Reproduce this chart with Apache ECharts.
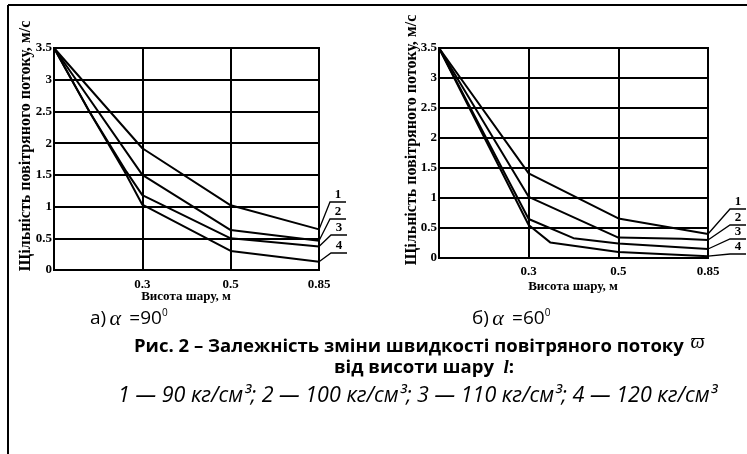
<!DOCTYPE html>
<html><head><meta charset="utf-8">
<script src="https://cdn.jsdelivr.net/npm/echarts@6/dist/echarts.min.js"></script>
<style>html,body{margin:0;padding:0;background:#fff}#c{width:747px;height:454px}</style>
</head><body><div id="c"></div>
<script>
// x positions are category slots (equally spaced): index 0 -> '', 1 -> 0.3, 2 -> 0.5, 3 -> 0.85
const xTickLabels = ['', '0.3', '0.5', '0.85'];
const yTickLabels = ['0', '0.5', '1', '1.5', '2', '2.5', '3', '3.5'];
const seriesNames = ['1', '2', '3', '4'];

// a) alpha = 90
const a1 = [[0,3.5],[1,1.92],[2,1.02],[3,0.64]];
const a2 = [[0,3.5],[1,1.5],[2,0.63],[3,0.46]];
const a3 = [[0,3.5],[0.4,2.5],[0.82,1.55],[1,1.18],[2,0.5],[3,0.37]];
const a4 = [[0,3.5],[0.4,2.5],[0.8,1.55],[1,1.03],[2,0.3],[3,0.13]];
// б) alpha = 60
const b1 = [[0,3.5],[1,1.41],[2,0.66],[3,0.4]];
const b2 = [[0,3.5],[1,1.02],[2,0.34],[2.7,0.32],[3,0.3]];
const b3 = [[0,3.5],[1,0.65],[1.5,0.33],[2,0.24],[3,0.15]];
const b4 = [[0,3.5],[1,0.55],[1.24,0.26],[2,0.1],[3,0.03]];

const yTitle = 'Щільність повітряного потоку, м/с';
const xTitle = 'Висота шару, м';

const serif = "'Liberation Serif','DejaVu Serif',serif";
const sans = "'Open Sans','Noto Sans',sans-serif";

const chart = echarts.init(document.getElementById('c'), null, {renderer:'canvas'});

function xAx(gi, margin){
  return {type:'value', gridIndex:gi, min:0, max:3, interval:1,
    axisLine:{show:true, onZero:false, lineStyle:{color:'#000', width:2}},
    axisTick:{show:false},
    axisLabel:{margin:margin, color:'#000', fontFamily:serif, fontWeight:'bold', fontSize:13,
      formatter:v=>xTickLabels[Math.round(v)]},
    splitLine:{show:true, lineStyle:{color:'#000', width:2}}};
}
function yAx(gi){
  return {type:'value', gridIndex:gi, min:0, max:3.5, interval:0.5,
    axisLine:{show:true, lineStyle:{color:'#000', width:2}},
    axisTick:{show:false},
    axisLabel:{margin:2, color:'#000', fontFamily:serif, fontWeight:'bold', fontSize:13,
      formatter:v=>yTickLabels[Math.round(v/0.5)]},
    splitLine:{show:true, lineStyle:{color:'#000', width:2}}};
}
function ser(name, data, gi){
  return {type:'line', name:name, xAxisIndex:gi, yAxisIndex:gi, data:data, symbol:'none',
    smooth:false, lineStyle:{color:'#000', width:2}, silent:true, animation:false};
}

chart.setOption({
  backgroundColor:'#fff',
  animation:false,
  grid:[
    {left:54, top:48, right:428, bottom:184, show:true, borderColor:'#000', borderWidth:2},
    {left:439, top:48, right:39, bottom:196, show:true, borderColor:'#000', borderWidth:2}
  ],
  xAxis:[xAx(0,8), xAx(1,7)],
  yAxis:[yAx(0), yAx(1)],
  series:[
    ser(seriesNames[0],a1,0), ser(seriesNames[1],a2,0), ser(seriesNames[2],a3,0), ser(seriesNames[3],a4,0),
    ser(seriesNames[0],b1,1), ser(seriesNames[1],b2,1), ser(seriesNames[2],b3,1), ser(seriesNames[3],b4,1)
  ]
});

// annotations
const g = [];
// frame
g.push({type:'line', shape:{x1:8,y1:5,x2:8,y2:454}, style:{stroke:'#000', lineWidth:2}});
g.push({type:'line', shape:{x1:8,y1:5,x2:747,y2:5}, style:{stroke:'#000', lineWidth:2}});
// y titles
g.push({type:'text', x:26, y:146, rotation:Math.PI/2, style:{text:yTitle, x:0, y:0, textAlign:'center', textVerticalAlign:'middle', font:'bold 16px '+serif, fill:'#000'}});
g.push({type:'text', x:412, y:140, rotation:Math.PI/2, style:{text:yTitle, x:0, y:0, textAlign:'center', textVerticalAlign:'middle', font:'bold 16px '+serif, fill:'#000'}});
// x titles
g.push({type:'text', style:{text:xTitle, x:186, y:297, textAlign:'center', textVerticalAlign:'middle', font:'bold 13px '+serif, fill:'#000'}});
g.push({type:'text', style:{text:xTitle, x:573, y:287, textAlign:'center', textVerticalAlign:'middle', font:'bold 13px '+serif, fill:'#000'}});

// series end labels with leader lines
const ends = [[a1,a2,a3,a4],[b1,b2,b3,b4]];
const labelPos = [
  [[338,195],[338,212],[339,228],[339,246]],
  [[738,202],[738,218],[738,232],[738,247]]
];
for (let gi=0; gi<2; gi++){
  for (let k=0; k<4; k++){
    const d = ends[gi][k];
    const last = d[d.length-1];
    const p = chart.convertToPixel({gridIndex:gi}, last);
    const [lx, ly] = labelPos[gi][k];
    const uy = ly + 7;
    g.push({type:'polyline', shape:{points:[[lx+8,uy],[lx-8,uy],[p[0],p[1]]]}, style:{stroke:'#000', lineWidth:1.3, fill:null}});
    g.push({type:'text', style:{text:seriesNames[k], x:lx, y:ly, textAlign:'center', textVerticalAlign:'middle', font:'bold 13px '+serif, fill:'#000'}});
  }
}

// captions
const capRich = {s:{fontFamily:sans, fontSize:19, fill:'#000'}, a:{fontFamily:serif, fontStyle:'italic', fontSize:22, fill:'#000'}, sup:{fontFamily:sans, fontSize:10, padding:[0,0,11,0], fill:'#000'}};
g.push({type:'text', style:{x:90, y:319, textVerticalAlign:'middle', text:'{s|а)} {a|α} {s| =90}{sup|0}', rich:capRich}});
g.push({type:'text', style:{x:472, y:319, textVerticalAlign:'middle', text:'{s|б)} {a|α} {s| =60}{sup|0}', rich:capRich}});
g.push({type:'text', style:{x:134, y:347, textVerticalAlign:'middle', text:'{b|Рис. 2 – Залежність зміни швидкості повітряного потоку}  {w|ϖ}',
  rich:{b:{fontFamily:sans, fontWeight:'bold', fontSize:18.5, fill:'#000'}, w:{fontFamily:serif, fontStyle:'italic', fontSize:20, padding:[0,0,9,0], fill:'#000'}}}});
g.push({type:'text', style:{x:424, y:368, textAlign:'center', textVerticalAlign:'middle', text:'{b|від висоти шару  }{l|l}{b|:}',
  rich:{b:{fontFamily:sans, fontWeight:'bold', fontSize:18.5, fill:'#000'}, l:{fontFamily:serif, fontStyle:'italic', fontWeight:'bold', fontSize:19, fill:'#000'}}}});
g.push({type:'text', style:{x:118, y:396, textVerticalAlign:'middle', text:'1 — 90 кг/см³; 2 — 100 кг/см³; 3 — 110 кг/см³; 4 — 120 кг/см³',
  font:'italic 21.5px '+sans, fill:'#000'}});

chart.setOption({graphic:{elements:g}});
</script></body></html>
